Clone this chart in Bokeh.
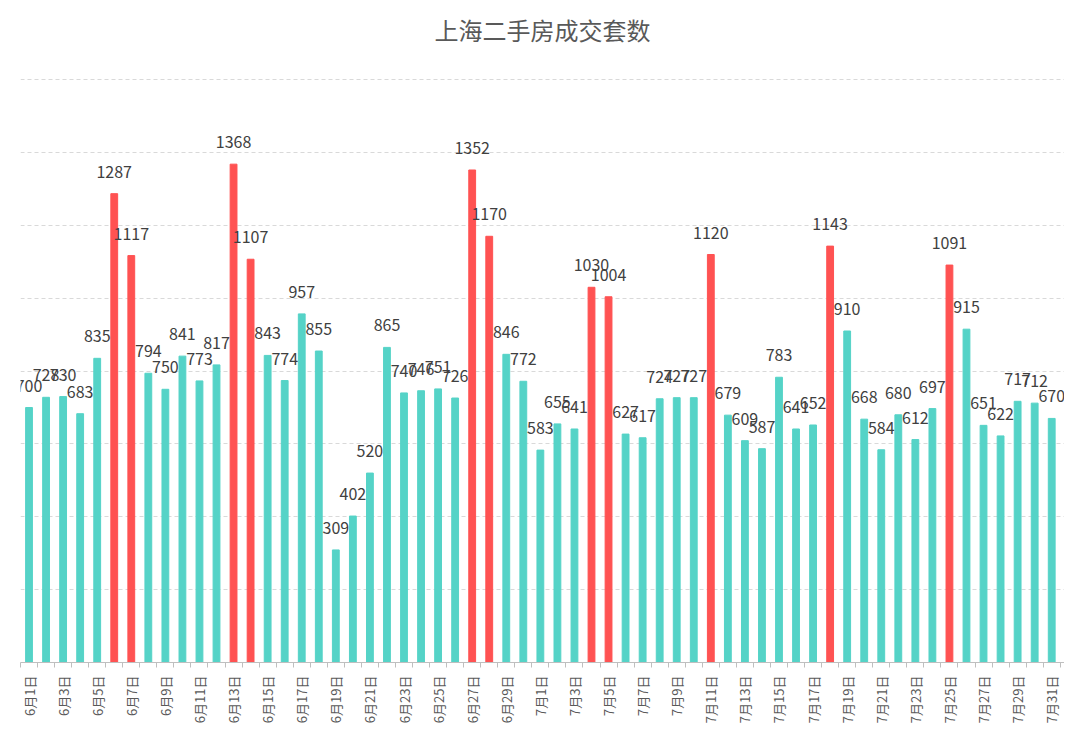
import math
from bokeh.plotting import figure
from bokeh.models import ColumnDataSource, FixedTicker, Range1d, Title, LabelSet
from bokeh.core.properties import value
from bokeh.embed import file_html
from bokeh.resources import INLINE

# ---- data ----
dates = [f"6月{d}日" for d in range(1, 31)] + [f"7月{d}日" for d in range(1, 32)]
counts = [700, 728, 730, 683, 835, 1287, 1117, 794, 750, 841,
          773, 817, 1368, 1107, 843, 774, 957, 855, 309, 402,
          520, 865, 740, 746, 751, 726, 1352, 1170, 846, 772,
          583, 655, 641, 1030, 1004, 627, 617, 724, 727, 727,
          1120, 679, 609, 587, 783, 641, 652, 1143, 910, 668,
          584, 680, 612, 697, 1091, 915, 651, 622, 717, 712, 670]
highlight = ["6月6日", "6月7日", "6月13日", "6月14日", "6月27日", "6月28日",
             "7月4日", "7月5日", "7月11日", "7月18日", "7月25日"]
grid_values = [200, 400, 600, 800, 1000, 1200, 1400, 1600]

TEAL = "#55D3C7"
RED = "#FF5252"

idx = list(range(len(dates)))
colors = [RED if d in highlight else TEAL for d in dates]
src = ColumnDataSource(dict(x=idx, y=counts, c=colors,
                            t=[str(v) for v in counts]))

p = figure(width=1064, height=726, output_backend="svg", toolbar_location=None,
           x_range=Range1d(-0.5, len(dates) - 0.25), y_range=Range1d(0, 1680),
           min_border_left=20, min_border_right=0, min_border_bottom=63,
           min_border_top=50)

title = Title(text="上海二手房成交套数", align="center",
              text_font="Noto Sans CJK SC", text_font_size="24px",
              text_color="#595959", text_font_style="normal", standoff=7)
p.add_layout(title, "above")

p.vbar(x="x", top="y", width=0.4, color="c", source=src)
labels = LabelSet(x="x", y="y", text="t", source=src, text_align="center",
                  text_baseline="alphabetic", y_offset=16, text_font_size="16px",
                  text_color="#404040", text_font=value("Noto Sans CJK SC"))
p.add_layout(labels)

p.outline_line_color = None
p.xgrid.visible = False
p.ygrid.ticker = FixedTicker(ticks=grid_values)
p.ygrid.grid_line_color = "#D9D9D9"
p.ygrid.grid_line_dash = "4 3"
p.ygrid.grid_line_width = 1
p.yaxis.visible = False

xa = p.xaxis[0]
xa.ticker = FixedTicker(ticks=idx[::2], minor_ticks=[i - 0.5 for i in idx] + [idx[-1] + 0.5])
xa.major_label_overrides = {i: dates[i] for i in idx[::2]}
xa.major_label_orientation = math.pi / 2
xa.major_tick_in = 0
xa.major_tick_out = 0
xa.minor_tick_in = 0
xa.minor_tick_out = 5
xa.minor_tick_line_color = "#BFBFBF"
xa.axis_line_color = "#BFBFBF"
xa.major_label_text_font = "Noto Sans CJK SC"
xa.major_label_text_font_size = "13px"
xa.major_label_text_color = "#595959"
xa.major_label_standoff = 8

open("out.html", "w").write(file_html(p, INLINE))
